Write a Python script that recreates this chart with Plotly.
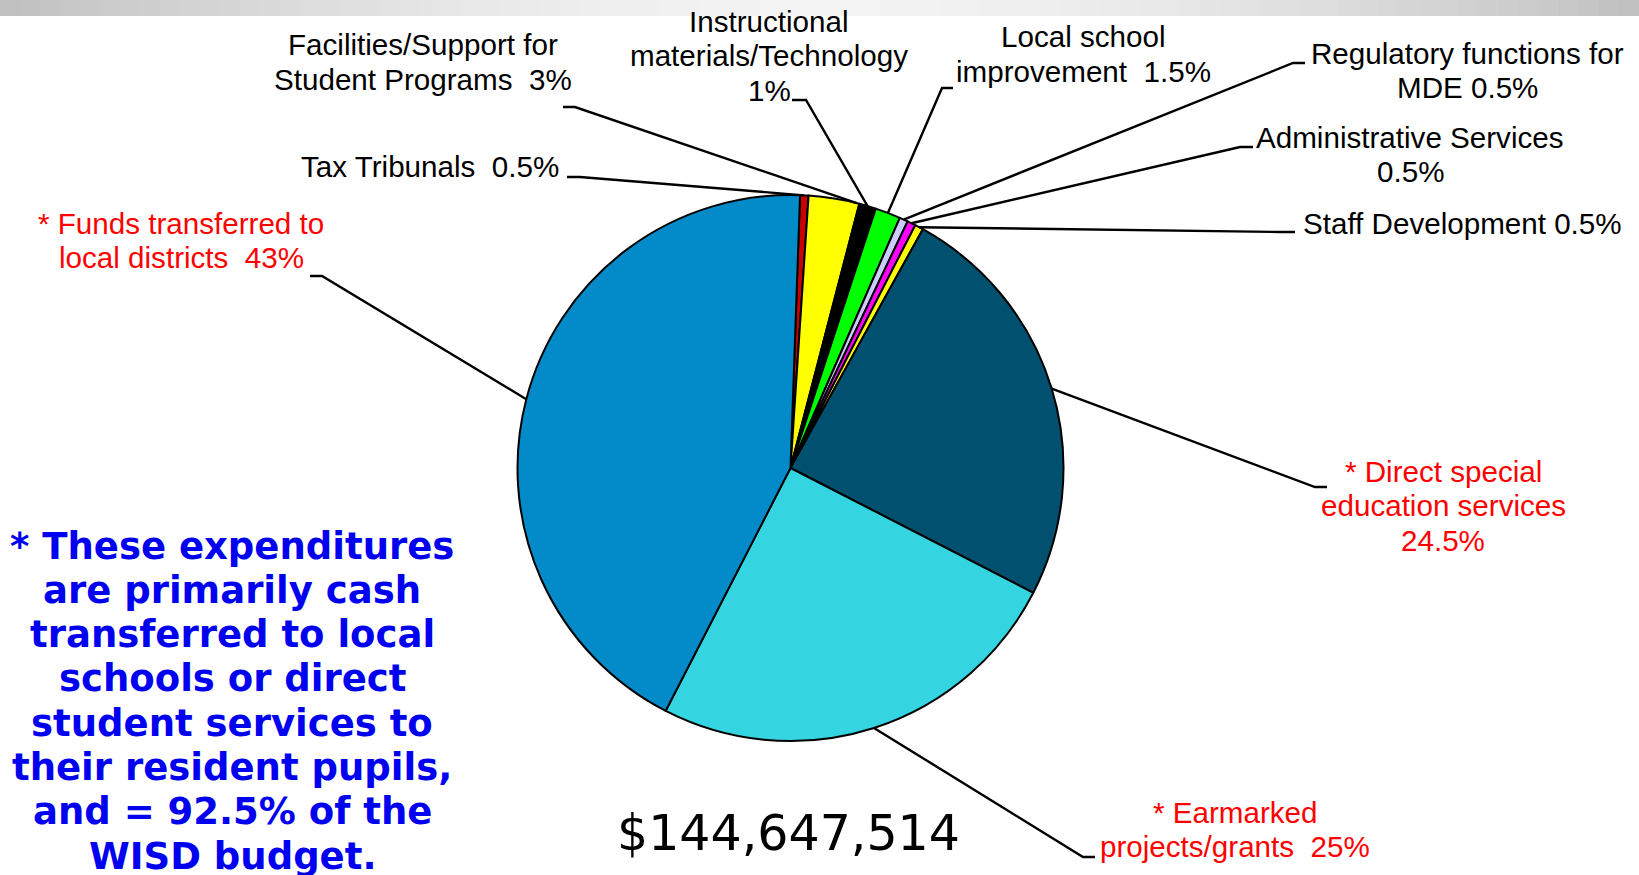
import math
import plotly.graph_objects as go

W, H = 1639, 875

# ---------------- data ----------------
categories = [
    "Tax Tribunals",
    "Facilities/Support for Student Programs",
    "Instructional materials/Technology",
    "Local school improvement",
    "Regulatory functions for MDE",
    "Administrative Services",
    "Staff Development",
    "* Direct special education services",
    "* Earmarked projects/grants",
    "* Funds transferred to local districts",
]
percentages = [0.5, 3, 1, 1.5, 0.5, 0.5, 0.5, 24.5, 25, 43]
slice_colors = ["#C80000", "#FFFF00", "#000000", "#00FF00", "#CCCCFF",
                "#FF00FF", "#FFFF00", "#01506F", "#35D4E1", "#038BC9"]
total_budget = "$144,647,514"
note_lines = ["* These expenditures", "are primarily cash", "transferred to local",
              "schools or direct", "student services to", "their resident pupils,",
              "and = 92.5% of the", "WISD budget."]

NB = "\u00a0"
# label text lines per slice
label_lines = [
    ["Tax Tribunals " + NB + "0.5%"],
    ["Facilities/Support for", "Student Programs " + NB + "3%"],
    ["Instructional", "materials/Technology", "1%"],
    ["Local school", "improvement " + NB + "1.5%"],
    ["Regulatory functions for", "MDE 0.5%"],
    ["Administrative Services", "0.5%"],
    ["Staff Development 0.5%"],
    ["* Direct special", "education services", "24.5%"],
    ["* Earmarked", "projects/grants " + NB + "25%"],
    ["* Funds transferred to", "local districts " + NB + "43%"],
]
label_red = [False] * 7 + [True] * 3

# ---------------- layout / style (pixel positions) ----------------
CX, CY, R = 790.5, 468.0, 273.0
ROT = 2.0
LINE_H = 34.5
# (x, first-line center y, xanchor) per label
label_pos = [
    (561, 166, "right"),
    (423, 45, "center"),
    (769, 21, "center"),
    (1083, 37, "center"),
    (1467, 53, "center"),
    (1410, 137, "center"),
    (1301, 223, "left"),
    (1443, 471, "center"),
    (1235, 812, "center"),
    (181, 223, "center"),
]
# leader: elbow point and tick end point
leader_pts = [
    ((580, 177), (567, 177)),
    ((575, 107), (563, 107)),
    ((806, 100), (792, 100)),
    ((942, 88), (953, 88)),
    ((1293, 63), (1305, 63)),
    ((1240, 147), (1253, 147)),
    ((1281, 232), (1295, 232)),
    ((1315, 487), (1327, 487)),
    ((1083, 857), (1095, 857)),
    ((322, 276), (310, 276)),
]
leader_frac = [0.5, 0.95, 0.5, 0.5, 0.5, 0.5, 0.5, 0.5, 0.5, 0.5]


def px(x):
    return x / W


def py(y):
    return 1 - y / H


fig = go.Figure()
fig.add_trace(go.Pie(
    labels=categories,
    values=percentages,
    sort=False,
    direction="clockwise",
    rotation=ROT,
    textinfo="none",
    marker=dict(colors=slice_colors, line=dict(color="#000000", width=2)),
    domain=dict(x=[px(CX - R), px(CX + R)], y=[py(CY + R), py(CY - R)]),
    showlegend=False,
))

shapes = []
# top gradient bar
n_strip = 82
sw = W / n_strip
for i in range(n_strip):
    t = (i + 0.5) / n_strip
    v = int(round(243 - 52 * (abs(t - 0.5) * 2) ** 1.8))
    c = f"rgb({v},{v},{v})"
    shapes.append(dict(type="rect", xref="paper", yref="paper",
                       x0=px(i * sw), x1=px((i + 1) * sw + 1), y0=py(16), y1=1,
                       fillcolor=c, line=dict(width=0), layer="below"))

# leader lines from slice edges
tot = sum(percentages)
cum = 0.0
for i, v in enumerate(percentages):
    a = math.radians(ROT + 360.0 * (cum + leader_frac[i] * v) / tot)
    cum += v
    sx, sy = CX + R * math.sin(a), CY - R * math.cos(a)
    (ex, ey), (tx, ty) = leader_pts[i]
    path = f"M {px(sx)},{py(sy)} L {px(ex)},{py(ey)} L {px(tx)},{py(ty)}"
    shapes.append(dict(type="path", xref="paper", yref="paper", path=path,
                       line=dict(color="#000000", width=2.4)))

annotations = []
for i, lines in enumerate(label_lines):
    x, y0, xa = label_pos[i]
    col = "#FF0000" if label_red[i] else "#000000"
    for j, ln in enumerate(lines):
        annotations.append(dict(
            text=ln, x=px(x), y=py(y0 + j * LINE_H), xref="paper", yref="paper",
            xanchor=xa, yanchor="middle", showarrow=False,
            font=dict(family="Liberation Sans, Arial", size=29.6, color=col)))

for j, ln in enumerate(note_lines):
    annotations.append(dict(
        text=f"<b>{ln}</b>", x=px(232), y=py(546 + j * 44.3), xref="paper", yref="paper",
        xanchor="center", yanchor="middle", showarrow=False,
        font=dict(family="DejaVu Sans", size=37, color="#0000F0")))

annotations.append(dict(
    text=total_budget, x=px(788), y=py(833), xref="paper", yref="paper",
    xanchor="center", yanchor="middle", showarrow=False,
    font=dict(family="DejaVu Sans", size=49, color="#000000")))

fig.update_layout(
    width=W, height=H,
    margin=dict(l=0, r=0, t=0, b=0),
    paper_bgcolor="#FFFFFF",
    plot_bgcolor="#FFFFFF",
    shapes=shapes,
    annotations=annotations,
    showlegend=False,
)

fig.write_html("out.html", config={"displayModeBar": False},
               post_script="document.body.style.margin='0px';")
